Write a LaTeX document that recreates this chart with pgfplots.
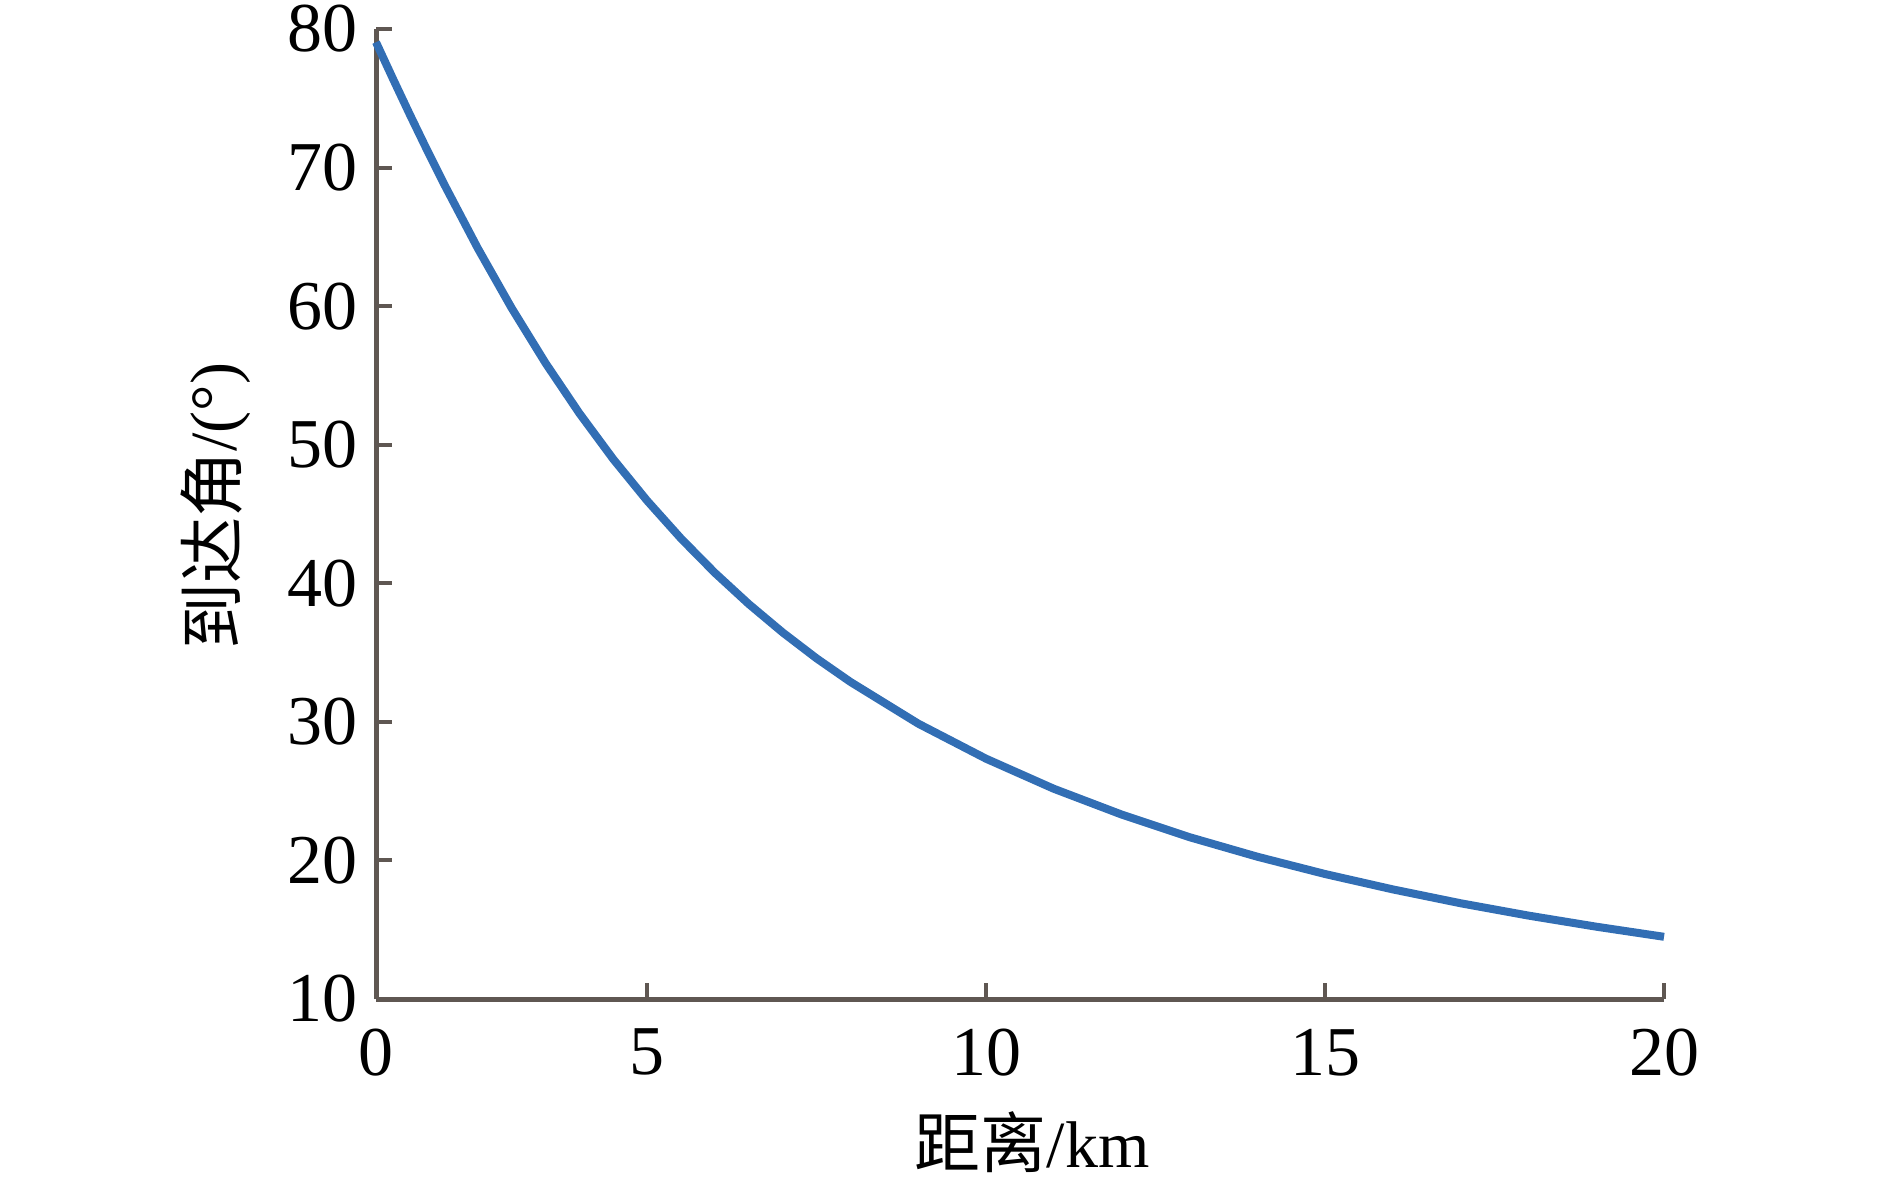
\documentclass[border=0pt]{standalone}
\usepackage{pgfplots}
\pgfplotsset{compat=1.18}
\usepackage{fontspec}
\setmainfont{Liberation Serif}
\newfontfamily\cjk{Noto Sans CJK SC}
\definecolor{curveblue}{RGB}{50,110,180}
\definecolor{axisgray}{RGB}{95,87,82}
\begin{document}
\begin{tikzpicture}
\path[use as bounding box] (-94pt,-45pt) rectangle (378.5pt,249.75pt);
\begin{axis}[
  at={(0,0)}, anchor=south west,
  scale only axis,
  width=322pt, height=242.5pt,
  xmin=1, xmax=20, ymin=10, ymax=80,
  axis lines=left,
  axis line style={-, line width=1.25pt, color=axisgray},
  xtick={1,5,10,15,20},
  xticklabels={0,5,10,15,20},
  ytick={10,20,30,40,50,60,70,80},
  tick align=inside,
  major tick length=4pt,
  tick style={line width=1pt, color=axisgray},
  /pgf/number format/assume math mode=true,
  ticklabel style={font=\fontsize{17.5}{21}\selectfont, text=black},
  xticklabel style={yshift=-4pt},
  yticklabel style={xshift=-1pt},
  xlabel={{\cjk 距离}/km},
  ylabel={{\cjk 到达角}/(°)},
  xlabel style={at={(axis description cs:0.5,0)}, anchor=base, yshift=-42pt, xshift=3pt, font=\fontsize{16.5}{20}\selectfont},
  ylabel style={at={(axis description cs:0,0.5)}, anchor=center, yshift=40pt, xshift=2pt, font=\fontsize{16.5}{20}\selectfont},
  clip=false,
]
\addplot[color=curveblue, line width=2pt] coordinates {
(1,79.05) (1.25,76.41) (1.5,73.82) (1.75,71.30) (2,68.85) (2.5,64.19) (3,59.87)
(3.5,55.90) (4,52.27) (4.5,48.96) (5,45.96) (5.5,43.23) (6,40.75) (6.5,38.50)
(7,36.45) (7.5,34.58) (8,32.88) (9,29.87) (10,27.34) (11,25.17) (12,23.31)
(13,21.68) (14,20.27) (15,19.02) (16,17.91) (17,16.91) (18,16.02) (19,15.22) (20,14.49)
};
\end{axis}
\end{tikzpicture}
\end{document}
